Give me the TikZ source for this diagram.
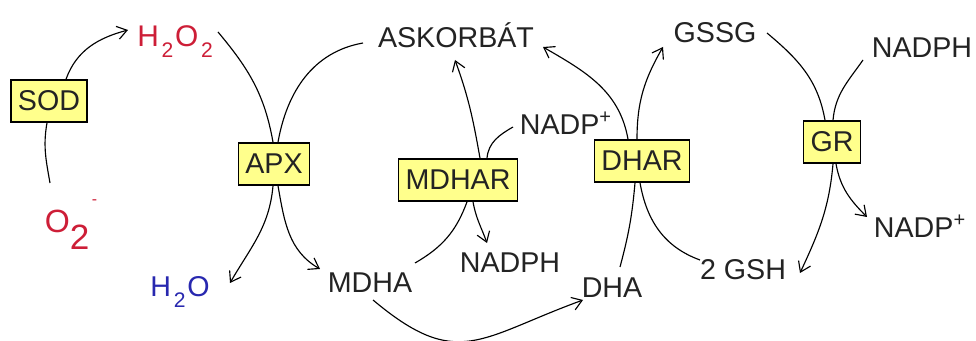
\documentclass[tikz,border=0pt]{standalone}
\usepackage{fontspec}
\setmainfont{Liberation Sans}
\usepackage{tikz}
\usetikzlibrary{arrows.meta}
\usetikzlibrary{calc}
\definecolor{boxyellow}{RGB}{255,255,140}
\definecolor{oxred}{RGB}{205,30,55}
\definecolor{wblue}{RGB}{40,40,175}
\definecolor{ink}{RGB}{35,35,35}
\tikzset{
    enzyme/.style={
           rectangle,
           draw=black, line width=0.9pt,
           fill=boxyellow,
           minimum height=0.84cm,
           inner xsep=0.14cm,
           text=ink,
           font=\fontsize{16.3}{18}\selectfont,
           },
    chem/.style={
           anchor=base,
           inner sep=0pt,
           text=ink,
           font=\fontsize{16.3}{18}\selectfont,
           },
}
\newcommand{\chemsub}[1]{\kern1.5pt\raisebox{-6pt}{\fontsize{12}{12}\selectfont #1}\kern1pt}

\begin{document}
\begin{tikzpicture}[x=0.02cm,y=0.02cm,->,>={Straight Barb[length=5.5pt,width=7.5pt]},line width=0.65pt]
 \useasboundingbox (0,0) rectangle (976,341);

 % enzymes (yellow boxes)
 \node[enzyme] (SOD) at (49,240) {SOD};
 \node[enzyme] (APX) at (274,177) {APX};
 \node[enzyme] (MDHAR) at (458,161) {MDHAR};
 \node[enzyme] (DHAR) at (642,180) {DHAR};
 \node[enzyme] (GR) at (832,199) {GR};

 % substrates and products, placed on their baselines
 \node[chem, text=oxred, font=\fontsize{18.3}{20}\selectfont] (O2) at (71,108)
 {O\raisebox{-9.5pt}{\fontsize{20}{20}\selectfont 2}\kern1.5pt\raisebox{16pt}{\small -}};
 \node[chem, text=oxred, font=\fontsize{17}{18}\selectfont] (H2O2) at (176,294) {H\chemsub{2}O\chemsub{2}};
 \node[chem, text=wblue] (H2O) at (180,44) {H\chemsub{2}O};
 \node[chem] (ASC) at (456,293) {ASKORBÁT};
 \node[chem] (NADPa) at (566,206) {NADP\textsuperscript{+}};
 \node[chem] (NADPHa) at (510,68) {NADPH};
 \node[chem] (MDHA) at (370,48) {MDHA};
 \node[chem] (DHA) at (612,43) {DHA};
 \node[chem] (GSSG) at (715,298) {GSSG};
 \node[chem] (NADPHb) at (922,283) {NADPH};
 \node[chem] (NADPb) at (920,103) {NADP\textsuperscript{+}};
 \node[chem] (GSH) at (743,61) {2 GSH};

 % SOD and APX
 \path ($(O2.base)+(-21,50)$) edge[-, out=100, in=260] ($(SOD.south)+(-2,0)$)
       ($(SOD.north)+(17,0)$) edge[out=70, in=195] ($(H2O2.base)+(-48,17)$)
       ($(H2O2.base)+(42,15)$) edge[-, out=-50, in=100] ($(APX.north)+(-1,0)$)
       ($(ASC.base)+(-93,5)$) edge[-, out=190, in=80] ($(APX.north)+(4,0)$)
       ($(APX.south)+(-1,0)$) edge[out=-95, in=60] ($(H2O.base)+(50,14)$)
       ($(APX.south)+(4,0)$) edge[out=-80, in=150] ($(MDHA.base)+(-50,24)$)
 ;

 % MDHAR and the bottom arc
 \path ($(MDHA.base)+(3,-7)$) edge[out=-40, in=200, looseness=1.35] ($(DHA.base)+(-29,-2)$)
       ($(MDHA.base)+(45,30)$) edge[-, out=30, in=-110] ($(MDHAR.south)+(9,0)$)
       ($(MDHAR.north)+(22,0)$) edge[out=100, in=-70] ($(ASC.base)+(-1,-12)$)
       ($(NADPa.base)+(-53,8)$) edge[-, out=210, in=85] ($(MDHAR.north)+(29,0)$)
       ($(MDHAR.south)+(15,0)$) edge[out=-80, in=110] ($(NADPHa.base)+(-23,30)$)
 ;

 % DHAR
 \path ($(DHA.base)+(8,31)$) edge[-, out=75, in=-95] ($(DHAR.south)+(-7,0)$)
       ($(DHAR.south)+(-2,0)$) edge[-, out=-80, in=160] ($(GSH.base)+(-43,20)$)
       ($(DHAR.north)+(-14,0)$) edge[out=100, in=-30] ($(ASC.base)+(87,1)$)
       ($(DHAR.north)+(-5,0)$) edge[out=90, in=-120] ($(GSSG.base)+(-52,-4)$)
 ;

 % GR
 \path ($(GSSG.base)+(52,10)$) edge[-, out=-40, in=100] ($(GR.north)+(-7,0)$)
       ($(NADPHb.base)+(-59,-2)$) edge[-, out=235, in=85] ($(GR.north)+(1,0)$)
       ($(GR.south)+(1,0)$) edge[out=-95, in=65] ($(GSH.base)+(57,7)$)
       ($(GR.south)+(4,0)$) edge[out=-80, in=135] ($(NADPb.base)+(-53,21)$)
 ;
\end{tikzpicture}
\end{document}
